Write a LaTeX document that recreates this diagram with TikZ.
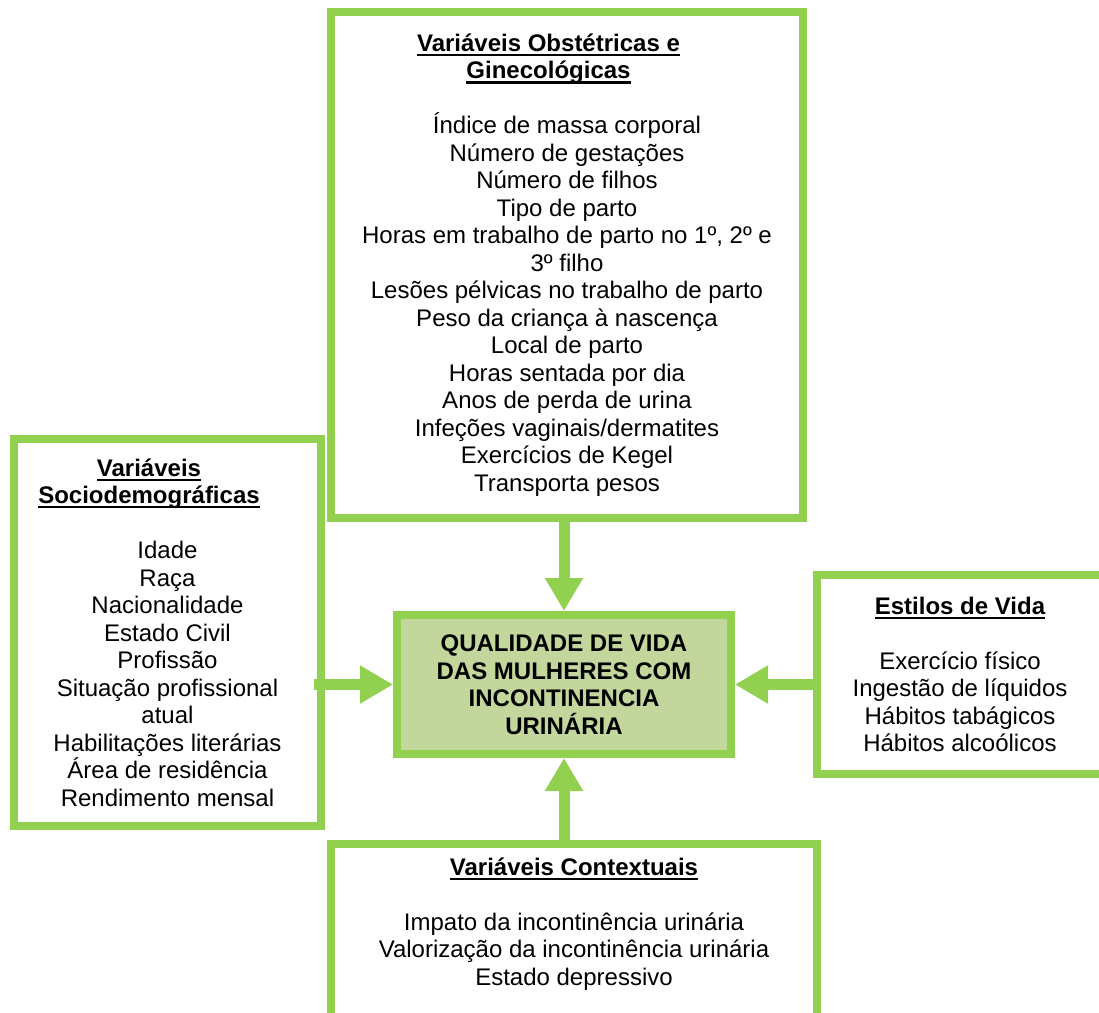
\documentclass[tikz,border=0pt]{standalone}
\usepackage{fontspec}
\setmainfont{Liberation Sans}
\usepackage{xcolor}
\usetikzlibrary{arrows.meta}
\definecolor{leafgreen}{HTML}{92D050}
\definecolor{olivefill}{HTML}{C3D69B}
\newcommand{\titleul}[1]{\leavevmode\setbox0\hbox{\bfseries #1}\rlap{\rule[-4.7pt]{\wd0}{2.3pt}}\box0}

\begin{document}
\begin{tikzpicture}[x=1pt,y=-1pt,font=\fontsize{24}{27.5}\selectfont,
  varbox/.style={rectangle,draw=leafgreen,line width=8pt,fill=white,align=center,inner sep=0pt},
  flow/.style={draw=leafgreen,line width=11pt,-{Triangle[width=36pt,length=33pt]}}]
\useasboundingbox (0,0) rectangle (1099,1012);
\clip (0,0) rectangle (1099,1012);
\node[varbox,minimum width=472pt,minimum height=506pt] (obst) at (567,265) {\titleul{Variáveis Obstétricas e}\kern37pt\\\titleul{Ginecológicas}\kern37pt\\[27.5pt]Índice de massa corporal\\Número de gestações\\Número de filhos\\Tipo de parto\\Horas em trabalho de parto no 1º, 2º e\\3º filho\\Lesões pélvicas no trabalho de parto\\Peso da criança à nascença\\Local de parto\\Horas sentada por dia\\Anos de perda de urina\\Infeções vaginais/dermatites\\Exercícios de Kegel\\Transporta pesos};
\node[varbox,minimum width=307pt,minimum height=387pt] (socio) at (167.5,632.5) {\titleul{Variáveis}\kern37pt\\\titleul{Sociodemográficas}\kern37pt\\[27.5pt]Idade\\Raça\\Nacionalidade\\Estado Civil\\Profissão\\Situação profissional\\atual\\Habilitações literárias\\Área de residência\\Rendimento mensal};
\node[varbox,minimum width=286pt,minimum height=199pt] (estilos) at (960,674.5) {\titleul{Estilos de Vida}\\[27.5pt]Exercício físico\\Ingestão de líquidos\\Hábitos tabágicos\\Hábitos alcoólicos};
\node[varbox,minimum width=486pt,minimum height=177pt] (ctx) at (574,932.5) {\titleul{Variáveis Contextuais}\\[27.5pt]Impato da incontinência urinária\\Valorização da incontinência urinária\\Estado depressivo\rule[-22pt]{0pt}{22pt}};
\node[varbox,fill=olivefill,font=\fontsize{24}{27.5}\selectfont\bfseries,minimum width=334pt,minimum height=139pt] (qv) at (564,684.5) {QUALIDADE DE VIDA\\DAS MULHERES COM\\INCONTINENCIA\\URINÁRIA};
\draw[flow] (qv.north |- obst.south) -- (qv.north);
\draw[flow] (qv.south |- ctx.north) -- (qv.south);
\draw[flow] ([xshift=-11pt]socio.east |- qv.west) -- (qv.west);
\draw[flow] (estilos.west |- qv.east) -- (qv.east);
\end{tikzpicture}
\end{document}
